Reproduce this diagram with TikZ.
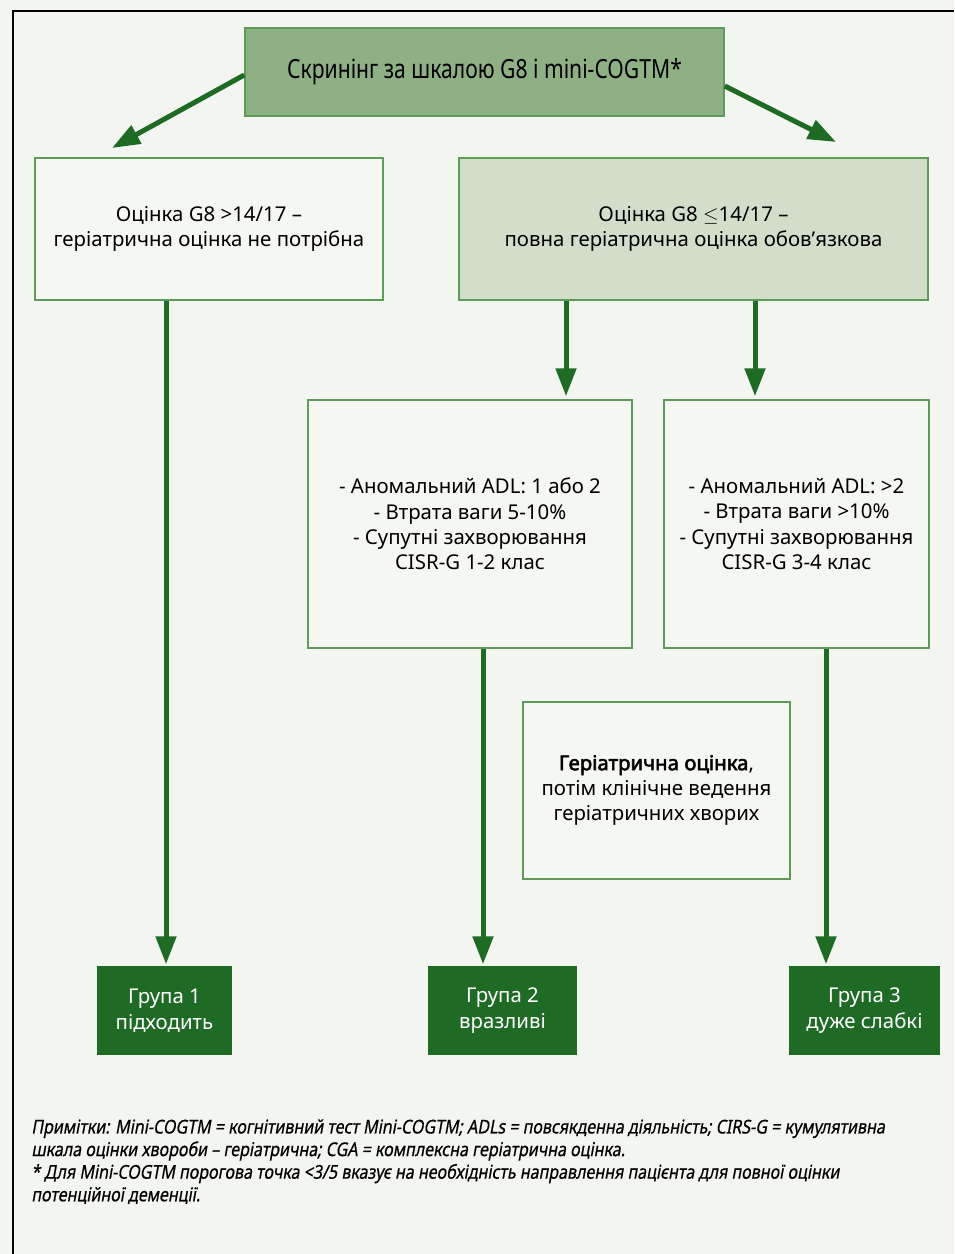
\documentclass[tikz,border=0pt]{standalone}
\usepackage{fontspec}
\setmainfont{Noto Sans}
\newfontfamily\condfont[FakeStretch=0.8]{Noto Sans}
\newfontfamily\heavyfont[FakeBold=2.5]{Noto Sans}
\newfontfamily\notefont[FakeStretch=0.845,FakeSlant=0.18,FakeBold=0.6]{Noto Sans}
\usetikzlibrary{arrows.meta}
\definecolor{bgcol}{HTML}{F3F5F0}
\definecolor{darkgreen}{HTML}{1F6B26}
\definecolor{midgreen}{HTML}{8FAF84}
\definecolor{palegreen}{HTML}{D2DDCA}
\definecolor{boxline}{HTML}{5E9B58}
\definecolor{boxfill}{HTML}{F5F7F3}
\tikzset{
  box/.style={draw=boxline, line width=0.75pt, fill=boxfill, inner sep=0pt, align=center,
    font=\fontsize{10.2}{12.7}\selectfont},
  group/.style={box, draw=darkgreen, fill=darkgreen, text=white, minimum height=43.5pt},
  flow/.style={draw=darkgreen, line width=2.5pt, -{Triangle[length=14pt,width=10pt]}},
  note/.style={inner sep=0pt, align=left, font=\notefont\fontsize{9.5}{11.3}\selectfont}
}

\begin{document}
\begin{tikzpicture}[x=0.5pt,y=-0.5pt]
\fill[bgcol] (0,0) rectangle (954,1254);
\useasboundingbox (0,0) rectangle (954,1254);
\draw[line width=1pt] (954,11) -- (13,11) -- (13,1254);

\node[box, fill=midgreen, minimum width=239.5pt, minimum height=44pt, font=\condfont\fontsize{13.2}{15}\selectfont] at (484.5,72) (screen) {Скринінг за шкалою G8 і mini-COGTM*};
\node[box, minimum width=174pt, minimum height=71pt] at (209,229) (fit) {Оцінка G8 >14/17 –\\геріатрична оцінка не потрібна};
\node[box, fill=palegreen, minimum width=234.5pt, minimum height=71pt] at (693.5,229) (full) {Оцінка G8 $\leq$14/17 –\\повна геріатрична оцінка обов’язкова};
\node[box, minimum width=162pt, minimum height=124pt] at (470,524) (vuln) {- Аномальний ADL: 1 або 2\\- Втрата ваги 5-10\%\\- Супутні захворювання\\CISR-G 1-2 клас};
\node[box, minimum width=132.5pt, minimum height=124pt] at (796.5,524) (frail) {- Аномальний ADL: >2\\- Втрата ваги >10\%\\- Супутні захворювання\\CISR-G 3-4 клас};
\node[box, minimum width=133.5pt, minimum height=88.5pt] at (656.5,790.5) (cga) {{\heavyfont Геріатрична оцінка},\\потім клінічне ведення\\геріатричних хворих};
\node[group, minimum width=66.5pt] at (164.5,1010.5) (grp1) {Група 1\\підходить};
\node[group, minimum width=73.5pt] at (502.5,1010.5) (grp2) {Група 2\\вразливі};
\node[group, minimum width=74.5pt] at (864.5,1010.5) (grp3) {Група 3\\дуже слабкі};

\coordinate (fitin) at (112,148);
\coordinate (fullin) at (836,142);
\draw[flow] ([yshift=-1.5pt]screen.west) -- (fitin);
\draw[flow] ([yshift=-7pt]screen.east) -- (fullin);
\draw[flow] ([xshift=-63.75pt]full.south) -- ([xshift=48pt,yshift=1.5pt]vuln.north);
\draw[flow] ([xshift=30.75pt]full.south) -- ([xshift=-20.75pt,yshift=1.5pt]frail.north);
\draw[flow] ([xshift=-21.5pt]fit.south) -- ([xshift=0.75pt,yshift=1pt]grp1.north);
\draw[flow] ([xshift=6.5pt]vuln.south) -- ([xshift=-9.75pt,yshift=1pt]grp2.north);
\draw[flow] ([xshift=14.75pt]frail.south) -- ([xshift=-19.25pt,yshift=1pt]grp3.north);

\node[note, anchor=north west] at (31,1119) (notes) {Примітки: Mini-COGTM = когнітивний тест Mini-COGTM; ADLs = повсякденна діяльність; CIRS-G = кумулятивна\\шкала оцінки хвороби – геріатрична; CGA = комплексна геріатрична оцінка.\\* Для Mini-COGTM порогова точка <3/5 вказує на необхідність направлення пацієнта для повної оцінки\\потенційної деменції.};
\end{tikzpicture}
\end{document}
